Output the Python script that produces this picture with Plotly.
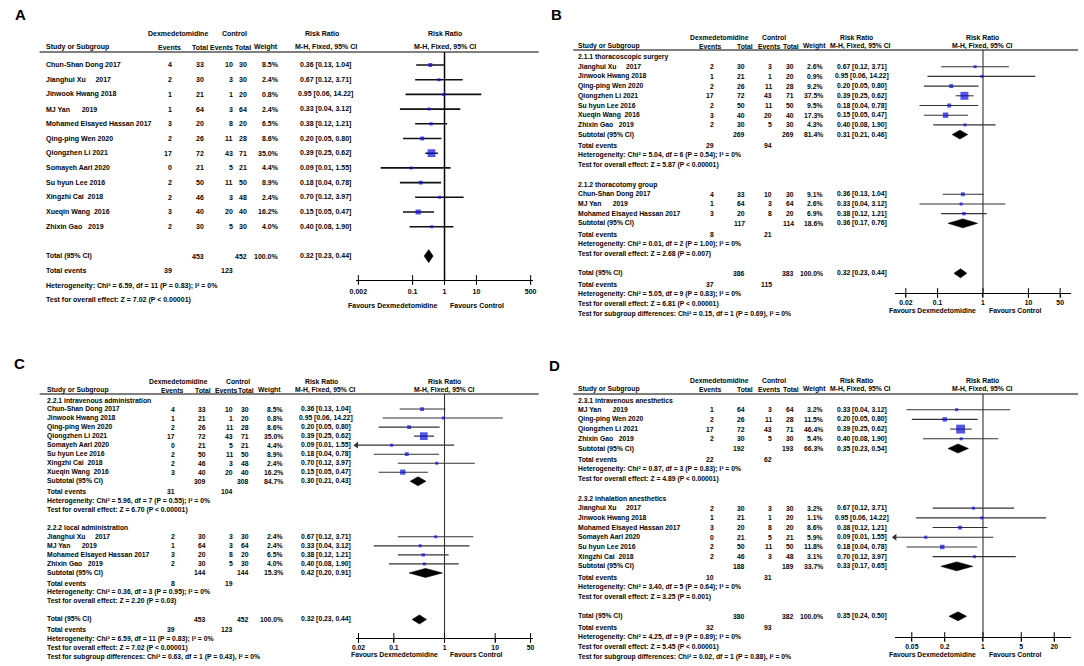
import math
import plotly.graph_objects as go

W, H = 1084, 666
TFONT = "Liberation Sans, Arial, sans-serif"
LABELF = "Liberation Sans, Arial, sans-serif"
NB = "\u00a0"

# ---------------- Panel A data ----------------
A_study = ["Chun-Shan Dong 2017", "Jianghui Xu" + NB * 5 + "2017", "Jinwook Hwang 2018", "MJ Yan" + NB * 6 + "2019",
           "Mohamed Elsayed Hassan 2017", "Qing-ping Wen 2020", "Qiongzhen Li 2021", "Somayeh Aarl 2020",
           "Su hyun Lee 2016", "Xingzhi Cai" + NB * 2 + "2018", "Xueqin Wang" + NB * 2 + "2016", "Zhixin Gao" + NB * 3 + "2019"]
A_dex_ev = [4, 2, 1, 1, 3, 2, 17, 0, 2, 2, 3, 2]
A_dex_n = [33, 30, 21, 64, 20, 26, 72, 21, 50, 46, 40, 30]
A_ctl_ev = [10, 3, 1, 3, 8, 11, 43, 5, 11, 3, 20, 5]
A_ctl_n = [30, 30, 20, 64, 20, 28, 71, 21, 50, 48, 40, 30]
A_weight = [8.5, 2.4, 0.8, 2.4, 6.5, 8.6, 35.0, 4.4, 8.9, 2.4, 16.2, 4.0]
A_rr = [0.36, 0.67, 0.95, 0.33, 0.38, 0.20, 0.39, 0.09, 0.18, 0.70, 0.15, 0.40]
A_lo = [0.13, 0.12, 0.06, 0.04, 0.12, 0.05, 0.25, 0.01, 0.04, 0.12, 0.05, 0.08]
A_hi = [1.04, 3.71, 14.22, 3.12, 1.21, 0.80, 0.62, 1.55, 0.78, 3.97, 0.47, 1.90]
A_tot_n = [453, 452]
A_tot_rr = [0.32, 0.23, 0.44]
A_tot_ev = [39, 123]
A_tot_het = "Chi² = 6.59, df = 11 (P = 0.83); I² = 0%"
A_tot_z = "Z = 7.02 (P < 0.00001)"
A_ticks = [0.002, 0.1, 1, 10, 500]
A_ticktext = ["0.002", "0.1", "1", "10", "500"]

# ---------------- Panel B data ----------------
B_titles = ["2.1.1 thoracoscopic surgery", "2.1.2 thoracotomy group"]
B_group = [0, 0, 0, 0, 0, 0, 0, 1, 1, 1]
B_study = ["Jianghui Xu" + NB * 5 + "2017", "Jinwook Hwang 2018", "Qing-ping Wen 2020", "Qiongzhen Li 2021",
           "Su hyun Lee 2016", "Xueqin Wang" + NB * 2 + "2016", "Zhixin Gao" + NB * 3 + "2019",
           "Chun-Shan Dong 2017", "MJ Yan" + NB * 6 + "2019", "Mohamed Elsayed Hassan 2017"]
B_dex_ev = [2, 1, 2, 17, 2, 3, 2, 4, 1, 3]
B_dex_n = [30, 21, 26, 72, 50, 40, 30, 33, 64, 20]
B_ctl_ev = [3, 1, 11, 43, 11, 20, 5, 10, 3, 8]
B_ctl_n = [30, 20, 28, 71, 50, 40, 30, 30, 64, 20]
B_weight = [2.6, 0.9, 9.2, 37.5, 9.5, 17.3, 4.3, 9.1, 2.6, 6.9]
B_rr = [0.67, 0.95, 0.20, 0.39, 0.18, 0.15, 0.40, 0.36, 0.33, 0.38]
B_lo = [0.12, 0.06, 0.05, 0.25, 0.04, 0.05, 0.08, 0.13, 0.04, 0.12]
B_hi = [3.71, 14.22, 0.80, 0.62, 0.78, 0.47, 1.90, 1.04, 3.12, 1.21]
B_sub_dex_n = [269, 117]
B_sub_ctl_n = [269, 114]
B_sub_weight = [81.4, 18.6]
B_sub_rr = [0.31, 0.36]
B_sub_lo = [0.21, 0.17]
B_sub_hi = [0.46, 0.76]
B_sub_dex_ev = [29, 8]
B_sub_ctl_ev = [94, 21]
B_sub_het = ["Chi² = 5.04, df = 6 (P = 0.54); I² = 0%", "Chi² = 0.01, df = 2 (P = 1.00); I² = 0%"]
B_sub_z = ["Z = 5.87 (P < 0.00001)", "Z = 2.68 (P = 0.007)"]
B_tot_n = [386, 383]
B_tot_rr = [0.32, 0.23, 0.44]
B_tot_ev = [37, 115]
B_tot_het = "Chi² = 5.05, df = 9 (P = 0.83); I² = 0%"
B_tot_z = "Z = 6.81 (P < 0.00001)"
B_subdiff = "Chi² = 0.15, df = 1 (P = 0.69), I² = 0%"
B_ticks = [0.02, 0.1, 1, 10, 50]
B_ticktext = ["0.02", "0.1", "1", "10", "50"]

# ---------------- Panel C data ----------------
C_titles = ["2.2.1 intravenous administration", "2.2.2 local administration"]
C_group = [0, 0, 0, 0, 0, 0, 0, 0, 1, 1, 1, 1]
C_study = ["Chun-Shan Dong 2017", "Jinwook Hwang 2018", "Qing-ping Wen 2020", "Qiongzhen Li 2021",
           "Somayeh Aarl 2020", "Su hyun Lee 2016", "Xingzhi Cai" + NB * 2 + "2018", "Xueqin Wang" + NB * 2 + "2016",
           "Jianghui Xu" + NB * 5 + "2017", "MJ Yan" + NB * 6 + "2019", "Mohamed Elsayed Hassan 2017",
           "Zhixin Gao" + NB * 3 + "2019"]
C_dex_ev = [4, 1, 2, 17, 0, 2, 2, 3, 2, 1, 3, 2]
C_dex_n = [33, 21, 26, 72, 21, 50, 46, 40, 30, 64, 20, 30]
C_ctl_ev = [10, 1, 11, 43, 5, 11, 3, 20, 3, 3, 8, 5]
C_ctl_n = [30, 20, 28, 71, 21, 50, 48, 40, 30, 64, 20, 30]
C_weight = [8.5, 0.8, 8.6, 35.0, 4.4, 8.9, 2.4, 16.2, 2.4, 2.4, 6.5, 4.0]
C_rr = [0.36, 0.95, 0.20, 0.39, 0.09, 0.18, 0.70, 0.15, 0.67, 0.33, 0.38, 0.40]
C_lo = [0.13, 0.06, 0.05, 0.25, 0.01, 0.04, 0.12, 0.05, 0.12, 0.04, 0.12, 0.08]
C_hi = [1.04, 14.22, 0.80, 0.62, 1.55, 0.78, 3.97, 0.47, 3.71, 3.12, 1.21, 1.90]
C_sub_dex_n = [309, 144]
C_sub_ctl_n = [308, 144]
C_sub_weight = [84.7, 15.3]
C_sub_rr = [0.30, 0.42]
C_sub_lo = [0.21, 0.20]
C_sub_hi = [0.43, 0.91]
C_sub_dex_ev = [31, 8]
C_sub_ctl_ev = [104, 19]
C_sub_het = ["Chi² = 5.96, df = 7 (P = 0.55); I² = 0%", "Chi² = 0.36, df = 3 (P = 0.95); I² = 0%"]
C_sub_z = ["Z = 6.70 (P < 0.00001)", "Z = 2.20 (P = 0.03)"]
C_tot_n = [453, 452]
C_tot_rr = [0.32, 0.23, 0.44]
C_tot_ev = [39, 123]
C_tot_het = "Chi² = 6.59, df = 11 (P = 0.83); I² = 0%"
C_tot_z = "Z = 7.02 (P < 0.00001)"
C_subdiff = "Chi² = 0.63, df = 1 (P = 0.43), I² = 0%"
C_ticks = [0.02, 0.1, 1, 10, 50]
C_ticktext = ["0.02", "0.1", "1", "10", "50"]

# ---------------- Panel D data ----------------
D_titles = ["2.3.1 intravenous anesthetics", "2.3.2 inhalation anesthetics"]
D_group = [0, 0, 0, 0, 1, 1, 1, 1, 1, 1]
D_study = ["MJ Yan" + NB * 6 + "2019", "Qing-ping Wen 2020", "Qiongzhen Li 2021", "Zhixin Gao" + NB * 3 + "2019",
           "Jianghui Xu" + NB * 5 + "2017", "Jinwook Hwang 2018", "Mohamed Elsayed Hassan 2017",
           "Somayeh Aarl 2020", "Su hyun Lee 2016", "Xingzhi Cai" + NB * 2 + "2018"]
D_dex_ev = [1, 2, 17, 2, 2, 1, 3, 0, 2, 2]
D_dex_n = [64, 26, 72, 30, 30, 21, 20, 21, 50, 46]
D_ctl_ev = [3, 11, 43, 5, 3, 1, 8, 5, 11, 3]
D_ctl_n = [64, 28, 71, 30, 30, 20, 20, 21, 50, 48]
D_weight = [3.2, 11.5, 46.4, 5.4, 3.2, 1.1, 8.6, 5.9, 11.8, 3.1]
D_rr = [0.33, 0.20, 0.39, 0.40, 0.67, 0.95, 0.38, 0.09, 0.18, 0.70]
D_lo = [0.04, 0.05, 0.25, 0.08, 0.12, 0.06, 0.12, 0.01, 0.04, 0.12]
D_hi = [3.12, 0.80, 0.62, 1.90, 3.71, 14.22, 1.21, 1.55, 0.78, 3.97]
D_sub_dex_n = [192, 188]
D_sub_ctl_n = [193, 189]
D_sub_weight = [66.3, 33.7]
D_sub_rr = [0.35, 0.33]
D_sub_lo = [0.23, 0.17]
D_sub_hi = [0.54, 0.65]
D_sub_dex_ev = [22, 10]
D_sub_ctl_ev = [62, 31]
D_sub_het = ["Chi² = 0.87, df = 3 (P = 0.83); I² = 0%", "Chi² = 3.40, df = 5 (P = 0.64); I² = 0%"]
D_sub_z = ["Z = 4.89 (P < 0.00001)", "Z = 3.25 (P = 0.001)"]
D_tot_n = [380, 382]
D_tot_rr = [0.35, 0.24, 0.50]
D_tot_ev = [32, 93]
D_tot_het = "Chi² = 4.25, df = 9 (P = 0.89); I² = 0%"
D_tot_z = "Z = 5.45 (P < 0.00001)"
D_subdiff = "Chi² = 0.02, df = 1 (P = 0.88), I² = 0%"
D_ticks = [0.05, 0.2, 1, 5, 20]
D_ticktext = ["0.05", "0.2", "1", "5", "20"]

# ---------------- layout geometry (pixels) ----------------
GA = dict(label="A", x_left=37, ev1=169, n1=201, ev2=230, n2=244, wt=277, rr=322,
          h_ev1=164, h_n1=195, h_ev2=217, h_n2=238, h_wt=262, h_dex=173, h_ctl=230, h_rr=318,
          fx0=353, fx1=531, xr=2.76, y0=65, u=14.7, rule=52, axis=280, h1=33, h2=47, fav=305,
          lab=(14, 15), rule_x0=33, rule_x1=537, fs=7.0, dh=0.44, tfs=7.0, standoff=2,
          cicol="#111111", ciw=1.6, vcol="#000000", vw=1.5)
GB = dict(label="B", x_left=575, ev1=716, n1=748, ev2=775, n2=797, wt=826, rr=864,
          h_ev1=711, h_n1=746, h_ev2=770, h_n2=792, h_wt=816, h_dex=720, h_ctl=775, h_rr=858,
          fx0=897, fx1=1075, xr=1.94, y0=57, u=9.7, rule=50, axis=293, h1=37, h2=46, fav=310,
          lab=(555, 15), rule_x0=572, rule_x1=1082, fs=6.8, dh=0.46, tfs=6.8, standoff=0,
          cicol="#333333", ciw=1.1, vcol="#333333", vw=1.1)
GC = dict(label="C", x_left=38, ev1=172, n1=203, ev2=230, n2=246, wt=281, rr=322,
          h_ev1=167, h_n1=198, h_ev2=222, h_n2=241, h_wt=265, h_dex=173, h_ctl=233, h_rr=318,
          fx0=353, fx1=531, xr=1.74, y0=400, u=9.03, rule=394, axis=638, h1=381, h2=390, fav=654,
          lab=(13, 363), rule_x0=33, rule_x1=537, fs=6.8, dh=0.5, tfs=6.8, standoff=0,
          cicol="#333333", ciw=1.1, vcol="#333333", vw=1.1)
GD = dict(label="D", x_left=575, ev1=716, n1=748, ev2=775, n2=797, wt=826, rr=864,
          h_ev1=711, h_n1=746, h_ev2=770, h_n2=792, h_wt=816, h_dex=720, h_ctl=775, h_rr=858,
          fx0=897, fx1=1075, xr=1.61, y0=400, u=9.7, rule=394, axis=637, h1=380, h2=389, fav=654,
          lab=(553, 365), rule_x0=572, rule_x1=1082, fs=6.8, dh=0.46, tfs=6.8, standoff=0,
          cicol="#333333", ciw=1.1, vcol="#333333", vw=1.1)


def pack(p):
    g = globals()
    keys = ["titles", "group", "study", "dex_ev", "dex_n", "ctl_ev", "ctl_n", "weight", "rr", "lo", "hi",
            "sub_dex_n", "sub_ctl_n", "sub_weight", "sub_rr", "sub_lo", "sub_hi", "sub_dex_ev", "sub_ctl_ev",
            "sub_het", "sub_z", "tot_n", "tot_rr", "tot_ev", "tot_het", "tot_z", "subdiff", "ticks", "ticktext"]
    return {k: g.get(f"{p}_{k}") for k in keys}


PANELS = [(GA, pack("A")), (GB, pack("B")), (GC, pack("C")), (GD, pack("D"))]

fig = go.Figure()
annotations = []
shapes = []
axes_layout = {}


def line_plan(d):
    plan = []
    if d["titles"] is None:
        n = len(d["study"])
        for i in range(n):
            plan.append(("study", i, float(i)))
        L = n + 1.0
        plan.append(("total", None, L))
        plan.append(("tevents", None, L + 1))
        plan.append(("thet", None, L + 2))
        plan.append(("ttest", None, L + 3))
        return plan
    L = 0.0
    for gi in range(len(d["titles"])):
        plan.append(("section", gi, L)); L += 1
        for i, g in enumerate(d["group"]):
            if g == gi:
                plan.append(("study", i, L)); L += 1
        plan.append(("subtotal", gi, L)); L += 1.15
        plan.append(("events", gi, L)); L += 1
        plan.append(("het", gi, L)); L += 1
        plan.append(("test", gi, L)); L += 2
    plan.append(("total", None, L)); L += 1.15
    plan.append(("tevents", None, L)); L += 1
    plan.append(("thet", None, L)); L += 1
    plan.append(("ttest", None, L)); L += 1
    plan.append(("tsub", None, L))
    return plan


def ci_text(r, lo, hi):
    return f"{r:.2f} [{lo:.2f}, {hi:.2f}]"


for pi, (G, d) in enumerate(PANELS):
    k = pi + 1
    xa = "x" if k == 1 else f"x{k}"
    ya = "y" if k == 1 else f"y{k}"
    u, y0 = G["u"], G["y0"]
    fs = G["fs"]

    def Lpx(py):
        return (py - y0) / u

    def txt_px(s, xpx, ypx, anchor="left", size=None):
        annotations.append(dict(text=f"<b>{s}</b>", x=xpx / W, xref="paper", y=1 - ypx / H, yref="paper",
                                xanchor=anchor, yanchor="middle", showarrow=False,
                                font=dict(size=size or fs, family=TFONT, color="#050505")))

    def txt(s, xpx, L, anchor="left", size=None):
        txt_px(s, xpx, y0 + L * u, anchor, size)

    L_top, L_axis = Lpx(G["rule"]), Lpx(G["axis"])
    axes_layout["xaxis" if k == 1 else f"xaxis{k}"] = dict(
        domain=[G["fx0"] / W, G["fx1"] / W], type="log", range=[-G["xr"], G["xr"]], anchor=ya,
        tickvals=d["ticks"], ticktext=[f"<b>{t}</b>" for t in d["ticktext"]], showline=True,
        linecolor="black", linewidth=1,
        ticks="outside", ticklen=3, tickcolor="black", showgrid=False, zeroline=False,
        ticklabelstandoff=G["standoff"],
        tickfont=dict(size=G["tfs"], family=TFONT, color="#050505"))
    axes_layout["yaxis" if k == 1 else f"yaxis{k}"] = dict(
        domain=[1 - G["axis"] / H, 1 - G["rule"] / H], range=[L_axis, L_top], anchor=xa,
        visible=False, showgrid=False, zeroline=False)

    # panel label
    annotations.append(dict(text=f"<b>{G['label']}</b>", x=G["lab"][0] / W, y=1 - G["lab"][1] / H,
                            xref="paper", yref="paper", xanchor="center", yanchor="middle", showarrow=False,
                            font=dict(size=15, family=LABELF, color="black")))
    # headers
    fmid = (G["fx0"] + G["fx1"]) / 2
    txt_px("Dexmedetomidine", G["h_dex"], G["h1"], "center")
    txt_px("Control", G["h_ctl"], G["h1"], "center")
    txt_px("Risk Ratio", G["h_rr"], G["h1"], "center")
    txt_px("Risk Ratio", fmid, G["h1"], "center")
    txt_px("Study or Subgroup", G["x_left"], G["h2"], "left")
    txt_px("Events", G["h_ev1"], G["h2"], "center")
    txt_px("Total", G["h_n1"], G["h2"], "center")
    txt_px("Events", G["h_ev2"], G["h2"], "center")
    txt_px("Total", G["h_n2"], G["h2"], "center")
    txt_px("Weight", G["h_wt"], G["h2"], "center")
    txt_px("M-H, Fixed, 95% CI", G["h_rr"] + 4, G["h2"], "center")
    txt_px("M-H, Fixed, 95% CI", fmid, G["h2"], "center")
    shapes.append(dict(type="line", xref="paper", yref="paper", x0=G["rule_x0"] / W, x1=G["rule_x1"] / W,
                       y0=1 - G["rule"] / H, y1=1 - G["rule"] / H, line=dict(color="black", width=1)))

    # favours labels
    txt_px("Favours Dexmedetomidine", fmid - 5, G["fav"], "right", size=G["tfs"])
    txt_px("Favours Control", fmid + 4, G["fav"], "left", size=G["tfs"])

    xmin, xmax = 10 ** (-G["xr"]), 10 ** (G["xr"])
    ci_x, ci_y, sq_x, sq_y, sq_s = [], [], [], [], []
    arr_l_x, arr_l_y = [], []
    diamonds = []

    for kind, idx, L in line_plan(d):
        if kind == "section":
            txt(d["titles"][idx], G["x_left"], L)
        elif kind == "study":
            txt(d["study"][idx], G["x_left"], L)
            txt(str(d["dex_ev"][idx]), G["ev1"], L, "right")
            txt(str(d["dex_n"][idx]), G["n1"], L, "right")
            txt(str(d["ctl_ev"][idx]), G["ev2"], L, "right")
            txt(str(d["ctl_n"][idx]), G["n2"], L, "right")
            txt(f"{d['weight'][idx]:.1f}%", G["wt"], L, "right")
            txt(ci_text(d["rr"][idx], d["lo"][idx], d["hi"][idx]), G["rr"], L, "center")
            lo, hi = d["lo"][idx], d["hi"][idx]
            ci_x += [max(lo, xmin), min(hi, xmax), None]
            ci_y += [L, L, None]
            if lo < xmin:
                arr_l_x.append(xmin)
                arr_l_y.append(L)
            sq_x.append(d["rr"][idx])
            sq_y.append(L)
            sq_s.append(max(3.0, 1.3 * math.sqrt(d["weight"][idx])))
        elif kind == "subtotal":
            txt("Subtotal (95% CI)", G["x_left"], L)
            txt(str(d["sub_dex_n"][idx]), G["n1"], L, "right")
            txt(str(d["sub_ctl_n"][idx]), G["n2"], L, "right")
            txt(f"{d['sub_weight'][idx]:.1f}%", G["wt"], L, "right")
            txt(ci_text(d["sub_rr"][idx], d["sub_lo"][idx], d["sub_hi"][idx]), G["rr"], L, "center")
            diamonds.append((d["sub_rr"][idx], d["sub_lo"][idx], d["sub_hi"][idx], L))
        elif kind == "events":
            txt("Total events", G["x_left"], L)
            txt(str(d["sub_dex_ev"][idx]), G["ev1"], L, "right")
            txt(str(d["sub_ctl_ev"][idx]), G["ev2"], L, "right")
        elif kind == "het":
            txt("Heterogeneity: " + d["sub_het"][idx], G["x_left"], L)
        elif kind == "test":
            txt("Test for overall effect: " + d["sub_z"][idx], G["x_left"], L)
        elif kind == "total":
            txt("Total (95% CI)", G["x_left"], L)
            txt(str(d["tot_n"][0]), G["n1"], L, "right")
            txt(str(d["tot_n"][1]), G["n2"], L, "right")
            txt("100.0%", G["wt"], L, "right")
            r, lo, hi = d["tot_rr"]
            txt(ci_text(r, lo, hi), G["rr"], L, "center")
            diamonds.append((r, lo, hi, L))
        elif kind == "tevents":
            txt("Total events", G["x_left"], L)
            txt(str(d["tot_ev"][0]), G["ev1"], L, "right")
            txt(str(d["tot_ev"][1]), G["ev2"], L, "right")
        elif kind == "thet":
            txt("Heterogeneity: " + d["tot_het"], G["x_left"], L)
        elif kind == "ttest":
            txt("Test for overall effect: " + d["tot_z"], G["x_left"], L)
        elif kind == "tsub":
            txt("Test for subgroup differences: " + d["subdiff"], G["x_left"], L)

    # vertical line of no effect
    fig.add_trace(go.Scatter(x=[1, 1], y=[L_top, L_axis], mode="lines", xaxis=xa, yaxis=ya,
                             line=dict(color=G["vcol"], width=G["vw"]), hoverinfo="skip", cliponaxis=False))
    # CI lines
    fig.add_trace(go.Scatter(x=ci_x, y=ci_y, mode="lines", xaxis=xa, yaxis=ya,
                             line=dict(color=G["cicol"], width=G["ciw"]), hoverinfo="skip"))
    if arr_l_x:
        fig.add_trace(go.Scatter(x=arr_l_x, y=arr_l_y, mode="markers", xaxis=xa, yaxis=ya, cliponaxis=False,
                                 marker=dict(symbol="triangle-left", size=6, color=G["cicol"]), hoverinfo="skip"))
    # squares
    fig.add_trace(go.Scatter(x=sq_x, y=sq_y, mode="markers", xaxis=xa, yaxis=ya,
                             marker=dict(symbol="square", size=sq_s, color="#0c0ce0", line=dict(width=0)),
                             hoverinfo="skip"))
    # diamonds
    for (r, lo, hi, L) in diamonds:
        h = G["dh"]
        fig.add_trace(go.Scatter(x=[lo, r, hi, r, lo], y=[L, L - h, L, L + h, L], mode="lines",
                                 fill="toself", fillcolor="black", line=dict(color="black", width=0.6),
                                 xaxis=xa, yaxis=ya, hoverinfo="skip"))
    # tick crosses on axis line
    fig.add_trace(go.Scatter(x=d["ticks"], y=[L_axis] * len(d["ticks"]), mode="markers", xaxis=xa, yaxis=ya,
                             cliponaxis=False,
                             marker=dict(symbol="line-ns", size=7, line=dict(color="black", width=1)),
                             hoverinfo="skip"))

fig.update_layout(width=W, height=H, margin=dict(l=0, r=0, t=0, b=0), paper_bgcolor="white",
                  plot_bgcolor="rgba(0,0,0,0)", showlegend=False, annotations=annotations, shapes=shapes,
                  hovermode=False, **axes_layout)
fig.write_html("out.html", config={"displayModeBar": False, "staticPlot": True},
               post_script="document.body.style.margin='0px';document.body.style.padding='0px';"
                           "document.body.style.overflow='hidden';")
